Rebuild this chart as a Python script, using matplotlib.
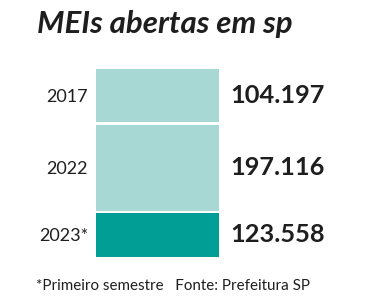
import matplotlib
matplotlib.use("Agg")
import matplotlib.pyplot as plt

# ── data ──────────────────────────────────────────────────────────────────────
years = ["2017", "2022", "2023*"]
values = [104197, 197116, 123558]
title = "MEIs abertas em sp"
footnote = "*Primeiro semestre   Fonte: Prefeitura SP"

# ── styling ───────────────────────────────────────────────────────────────────
LIGHT = "#A8D8D3"
DARK = "#009E94"
TEXT = "#1E1E1E"
colours = [LIGHT, LIGHT, DARK]
block_px = [53, 86, 44]      # block heights as drawn (layout, not scaled to value)
gap_px = 2.5

W, H = 380, 300
fig = plt.figure(figsize=(W / 100, H / 100), dpi=100)
plt.rcParams["font.family"] = ["Lato", "DejaVu Sans"]

def fmt(v):
    return f"{v:,}".replace(",", ".")

left, right, top = 96, 219, 69
total = sum(block_px) + gap_px * (len(block_px) - 1)
ax = fig.add_axes([left / W, 1 - (top + total) / H, (right - left) / W, total / H])
ax.set_xlim(-0.5, 0.5)
ax.set_ylim(total, 0)
ax.axis("off")

bottom = 0.0
for yr, val, h, c in zip(years, values, block_px, colours):
    ax.bar(0, h, bottom=bottom, width=1.0, color=c, linewidth=0)
    mid = bottom + h / 2
    ax.annotate(yr, xy=(-0.5, mid), xytext=(-8, -1), textcoords="offset pixels",
                ha="right", va="center", fontsize=13, color=TEXT)
    ax.annotate(fmt(val), xy=(0.5, mid), xytext=(11, 0), textcoords="offset pixels",
                ha="left", va="center", fontsize=18.3, fontweight="bold", color=TEXT)
    bottom += h + gap_px

fig.text(37 / W, 1 - 33 / H, title, ha="left", va="baseline", fontsize=22.5,
         fontweight="bold", style="italic", color=TEXT)
fig.text(36 / W, 1 - 290 / H, footnote, ha="left", va="baseline", fontsize=10.9,
         color=TEXT)

fig.savefig("out.png", dpi=100, facecolor="white")
